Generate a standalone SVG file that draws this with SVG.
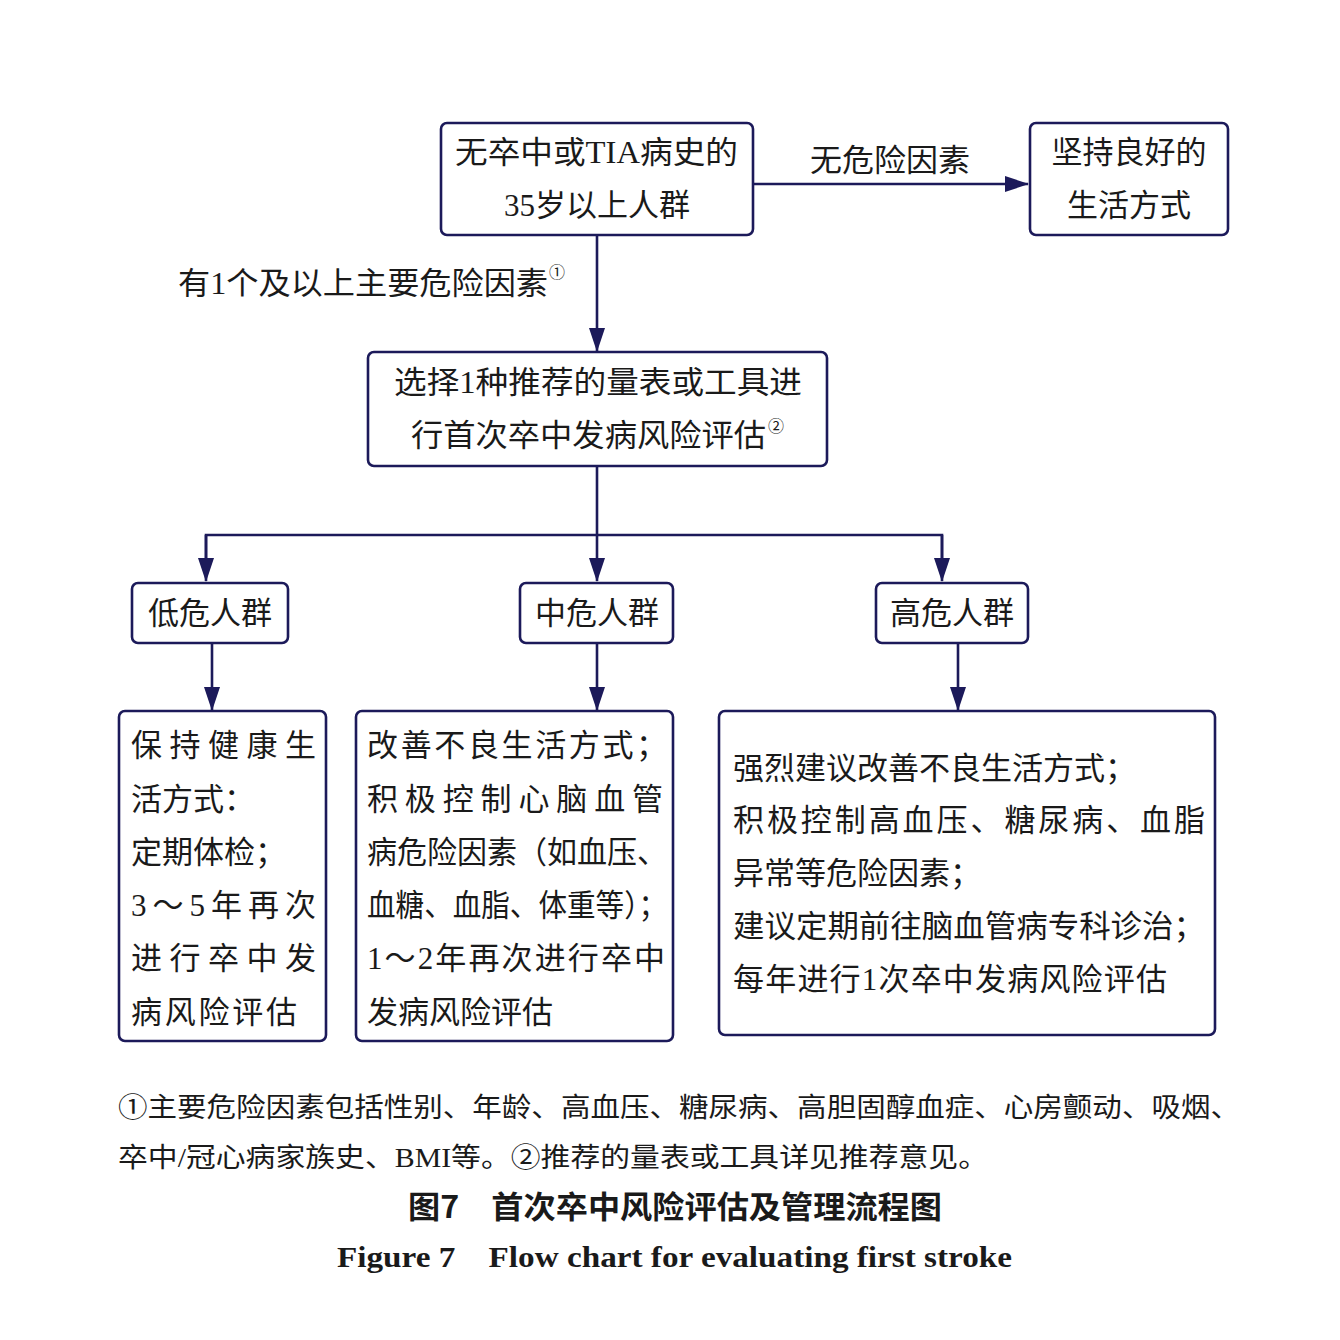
<svg xmlns="http://www.w3.org/2000/svg" width="1340" height="1340" viewBox="0 0 1340 1340">
<style>
.box{fill:#fff;stroke:#1c1a5a;stroke-width:2.6}
.ln{fill:none;stroke:#1c1a5a;stroke-width:2.6}
text{font-family:"Liberation Serif","Noto Sans CJK SC",serif;fill:#1a1a1a}
.t{font-size:31px}
.c{text-anchor:middle}
.n{font-size:27px}
.cap{font-size:31px;font-weight:bold;font-family:"Noto Sans CJK SC",sans-serif}
.eng{font-size:30px;font-weight:bold}
.sup{font-size:16px}
</style>
<defs>
<marker id="ah" markerWidth="24" markerHeight="16" refX="23" refY="8" orient="auto" markerUnits="userSpaceOnUse" viewBox="0 0 24 16">
<path d="M0,0 L24,8 L0,16 Z" fill="#1c1a5a"/>
</marker>
</defs>
<rect width="1340" height="1340" fill="#fff"/>
<g id="connectors">
<line class="ln" x1="753" y1="184" x2="1028" y2="184" marker-end="url(#ah)"/>
<line class="ln" x1="597" y1="235" x2="597" y2="351" marker-end="url(#ah)"/>
<line class="ln" x1="597" y1="466" x2="597" y2="581" marker-end="url(#ah)"/>
<polyline class="ln" points="206,560 206,535 942,535 942,560"/>
<line class="ln" x1="206" y1="535" x2="206" y2="581" marker-end="url(#ah)"/>
<line class="ln" x1="942" y1="535" x2="942" y2="581" marker-end="url(#ah)"/>
<line class="ln" x1="212" y1="643" x2="212" y2="710" marker-end="url(#ah)"/>
<line class="ln" x1="597" y1="643" x2="597" y2="710" marker-end="url(#ah)"/>
<line class="ln" x1="958" y1="643" x2="958" y2="710" marker-end="url(#ah)"/>
<text class="t" x="810" y="171" textLength="160" lengthAdjust="spacingAndGlyphs">无危险因素</text>
<text class="t" x="178" y="294" textLength="370" lengthAdjust="spacingAndGlyphs">有1个及以上主要危险因素</text>
<text class="sup" x="549" y="278">①</text>
</g>
<g id="start">
<rect class="box" x="441" y="123" width="312" height="112" rx="6"/>
<text class="t" x="455" y="163" textLength="283" lengthAdjust="spacingAndGlyphs">无卒中或TIA病史的</text>
<text class="t c" x="597" y="216">35岁以上人群</text>
</g>
<g id="lifestyle">
<rect class="box" x="1030" y="123" width="198" height="112" rx="6"/>
<text class="t c" x="1129" y="163">坚持良好的</text>
<text class="t c" x="1129" y="216">生活方式</text>
</g>
<g id="assess">
<rect class="box" x="368" y="352" width="459" height="114" rx="6"/>
<text class="t" x="394" y="393" textLength="408" lengthAdjust="spacingAndGlyphs">选择1种推荐的量表或工具进</text>
<text class="t" x="411" y="446" textLength="355" lengthAdjust="spacingAndGlyphs">行首次卒中发病风险评估</text>
<text class="sup" x="768" y="432">②</text>
</g>
<g id="low">
<rect class="box" x="132" y="583" width="156" height="60" rx="6"/>
<text class="t c" x="210" y="624">低危人群</text>
</g>
<g id="mid">
<rect class="box" x="520" y="583" width="153" height="60" rx="6"/>
<text class="t c" x="597" y="624">中危人群</text>
</g>
<g id="high">
<rect class="box" x="876" y="583" width="152" height="60" rx="6"/>
<text class="t c" x="952" y="624">高危人群</text>
</g>
<g id="low-action">
<rect class="box" x="119" y="711" width="207" height="330" rx="6"/>
<text class="t" x="131" y="756" textLength="185" lengthAdjust="spacing">保持健康生</text>
<text class="t" x="131" y="810">活方式：</text>
<text class="t" x="131" y="863">定期体检；</text>
<text class="t" x="131" y="916" textLength="185" lengthAdjust="spacing">3～5年再次</text>
<text class="t" x="131" y="969" textLength="185" lengthAdjust="spacing">进行卒中发</text>
<text class="t" x="131" y="1023" textLength="166" lengthAdjust="spacing">病风险评估</text>
</g>
<g id="mid-action">
<rect class="box" x="356" y="711" width="317" height="330" rx="6"/>
<text class="t" x="367" y="756" textLength="300" lengthAdjust="spacing">改善不良生活方式；</text>
<text class="t" x="367" y="810" textLength="296" lengthAdjust="spacing">积极控制心脑血管</text>
<text class="t" x="367" y="863" textLength="300" lengthAdjust="spacingAndGlyphs">病危险因素（如血压、</text>
<text class="t" x="367" y="916" textLength="300" lengthAdjust="spacingAndGlyphs">血糖、血脂、体重等）；</text>
<text class="t" x="367" y="969" textLength="298" lengthAdjust="spacing">1～2年再次进行卒中</text>
<text class="t" x="367" y="1023">发病风险评估</text>
</g>
<g id="high-action">
<rect class="box" x="719" y="711" width="496" height="324" rx="6"/>
<text class="t" x="733" y="779">强烈建议改善不良生活方式；</text>
<text class="t" x="733" y="831" textLength="472" lengthAdjust="spacing">积极控制高血压、糖尿病、血脂</text>
<text class="t" x="733" y="884">异常等危险因素；</text>
<text class="t" x="733" y="937" textLength="472" lengthAdjust="spacingAndGlyphs">建议定期前往脑血管病专科诊治；</text>
<text class="t" x="733" y="990" textLength="434" lengthAdjust="spacing">每年进行1次卒中发病风险评估</text>
</g>
<g id="notes">
<text class="n" x="118" y="1117" textLength="1122" lengthAdjust="spacingAndGlyphs">①主要危险因素包括性别、年龄、高血压、糖尿病、高胆固醇血症、心房颤动、吸烟、</text>
<text class="n" x="118" y="1167" textLength="870" lengthAdjust="spacingAndGlyphs">卒中/冠心病家族史、BMI等。②推荐的量表或工具详见推荐意见。</text>
<text class="cap" x="408" y="1218" textLength="534" lengthAdjust="spacingAndGlyphs">图7　首次卒中风险评估及管理流程图</text>
<text class="eng" x="337" y="1267" textLength="675" lengthAdjust="spacingAndGlyphs">Figure 7　Flow chart for evaluating first stroke</text>
</g>
</svg>
